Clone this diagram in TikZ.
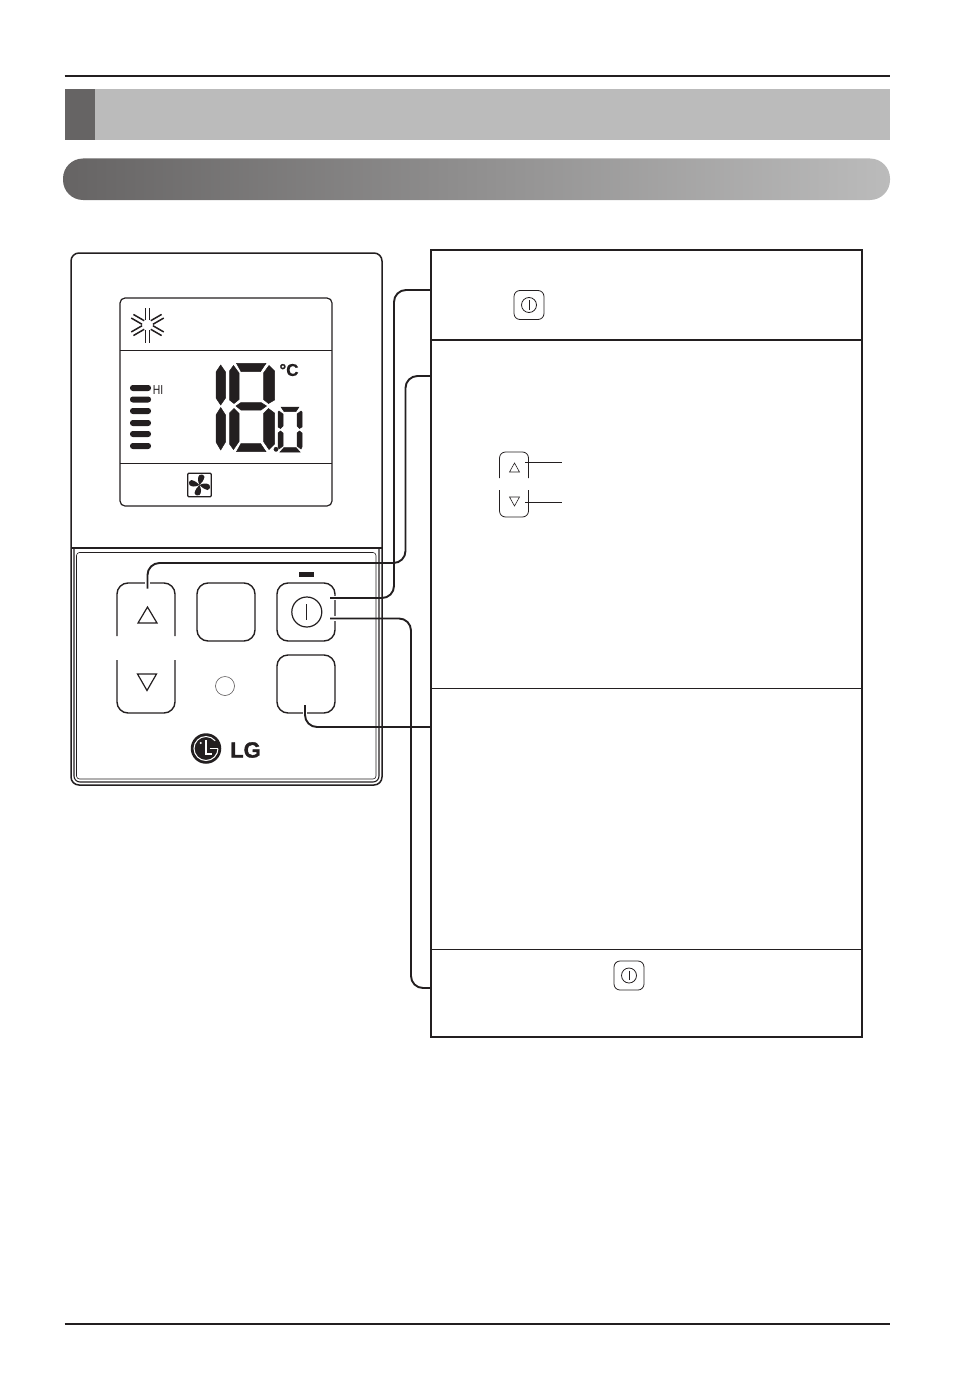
\documentclass[tikz,border=0pt]{standalone}
\usepackage{fontspec}
\setsansfont{Liberation Sans}
\usetikzlibrary{positioning}

\definecolor{bardark}{HTML}{666464}
\definecolor{barlight}{HTML}{BBBBBB}
\definecolor{inkblack}{HTML}{231F20}

\tikzset{
  key/.style={draw=inkblack, line width=1.4pt, rounded corners=11pt, minimum size=58pt, inner sep=0pt, outer sep=0pt},
  halfkey/.style={minimum width=58pt, minimum height=53pt, inner sep=0pt, outer sep=0pt},
  keyline/.style={draw=inkblack, line width=1.4pt, rounded corners=11pt},
  cell/.style={draw=inkblack, line width=0.7pt, minimum width=431pt, inner sep=0pt, outer sep=0pt},
  heavy/.style={draw=inkblack, line width=2.2pt},
  leader/.style={draw=inkblack, line width=1.9pt, rounded corners=12pt},
  halo/.style={draw=white, line width=4.5pt},
  seg/.style={fill=inkblack, draw=inkblack, line width=0.5pt},
  fanbar/.style={fill=inkblack, rounded corners=2.8pt},
  poweron/.pic={
    \draw[inkblack, line width=0.8pt, rounded corners=6pt] (-15,-14.5) rectangle (15,14.5);
    \draw[inkblack, line width=0.8pt] (0,0) circle (7.5);
    \draw[inkblack, line width=0.7pt] (0,-5) -- (0,4.5);
  }
}

\begin{document}
\begin{tikzpicture}[x=1pt, y=-1pt]
\useasboundingbox (0,0) rectangle (954,1399);

% Page header %
\draw[inkblack, line width=2pt] (64.5,76) -- (889.5,76);
\fill[barlight] (64.5,89) rectangle (890,140);
\fill[bardark] (64.5,89) rectangle (95,140);
\shade[left color=bardark, right color=barlight, rounded corners=20pt] (63,158.5) rectangle (890,200);
\draw[inkblack, line width=2pt] (64.5,1324) -- (889.5,1324);

% Remote body %
\node[draw=inkblack, line width=1.5pt, rounded corners=8pt, minimum width=311pt, minimum height=532pt, inner sep=0pt, outer sep=0pt] (body) at (226.5,519) {};
\draw[inkblack, line width=1.5pt] (body.west |- 0,548) -- (body.east |- 0,548);
\draw[inkblack, line width=1.1pt, rounded corners=6pt] (74,548) -- (74,782) -- (379,782) -- (379,548);
\draw[inkblack, line width=0.6pt, rounded corners=3pt] (76.5,552.5) rectangle (376,779);

% Display %
\node[draw=inkblack, line width=1.2pt, rounded corners=5pt, minimum width=212pt, minimum height=208pt, inner sep=0pt, outer sep=0pt] (lcd) at (226,402) {};
\draw[inkblack, line width=0.7pt] (lcd.west |- 0,350) -- (lcd.east |- 0,350);
\draw[inkblack, line width=0.7pt] (lcd.west |- 0,463) -- (lcd.east |- 0,463);

% Snow mark %
\foreach \ang in {30,90,150,210,270,330} {
  \draw[inkblack, line width=1.5pt, rotate around={\ang:(147.5,325)}] (147.5+5,322.9) -- (147.5+17.5,322.9);
  \draw[inkblack, line width=1.5pt, rotate around={\ang:(147.5,325)}] (147.5+5,327.1) -- (147.5+17.5,327.1);
}

% Fan bars %
\foreach \ypos in {388,399.5,411,423,434,446} {
  \fill[fanbar] (130,\ypos-3) rectangle (151,\ypos+3);
}
\node[font=\sffamily\fontsize{13}{13}\selectfont, inner sep=0pt, text=inkblack, xscale=0.8] (hilabel) at (158,390) {HI};

% Digits %
\fill[seg] (220.7,365) -- (225.5,372) -- (225.5,398) -- (220.7,405) -- (216,398) -- (216,372) -- cycle;
\fill[seg] (220.7,407.5) -- (225.5,415) -- (225.5,442) -- (220.7,450) -- (216,442) -- (216,415) -- cycle;
\fill[seg] (233.5,365.5) -- (239,373) -- (239,399.5) -- (234,403.5) -- (229.5,400) -- (229.5,371) -- cycle;
\fill[seg] (234,408.5) -- (239,413.5) -- (239,441.5) -- (233.5,449.5) -- (229.5,444) -- (229.5,413) -- cycle;
\fill[seg] (269,365.5) -- (263.5,373) -- (263.5,399.5) -- (268.5,403.5) -- (274.5,400) -- (274.5,371) -- cycle;
\fill[seg] (268.5,408.5) -- (263.5,413.5) -- (263.5,441.5) -- (269,449.5) -- (274.5,444) -- (274.5,413) -- cycle;
\fill[seg] (236.5,363.3) -- (266,363.3) -- (260.5,371.5) -- (241,371.5) -- cycle;
\fill[seg] (241,402.5) -- (261,402.5) -- (266.5,406) -- (261,410) -- (241,410) -- (236,406) -- cycle;
\fill[seg] (241,443.5) -- (260.5,443.5) -- (266,451.7) -- (236.5,451.7) -- cycle;
\fill[seg] (276,449.3) circle (2.1);
% Small zero
\fill[seg] (279,411) -- (283,414) -- (283,426) -- (280.5,428.5) -- (278,427) -- (278,412) -- cycle;
\fill[seg] (280.5,431) -- (283,433) -- (283,446) -- (279,449) -- (278,447) -- (278,433) -- cycle;
\fill[seg] (301,411) -- (297,414) -- (297,426) -- (299.5,428.5) -- (302,427) -- (302,412) -- cycle;
\fill[seg] (299.5,431) -- (297,433) -- (297,446) -- (301,449) -- (302,447) -- (302,433) -- cycle;
\fill[seg] (281,407) -- (299,407) -- (296,411.5) -- (284,411.5) -- cycle;
\fill[seg] (284,447.5) -- (296,447.5) -- (300,452) -- (280,452) -- cycle;
\node[font=\sffamily\bfseries\fontsize{17}{17}\selectfont\addfontfeature{FakeBold=1}, inner sep=0pt, text=inkblack] (deglabel) at (289,370) {°C};

% Fan mark %
\node[draw=inkblack, line width=1.2pt, rounded corners=1pt, minimum size=23.5pt, inner sep=0pt, outer sep=0pt] (fanbox) at (199.5,485) {};
\foreach \ang in {0,90,180,270} {
  \fill[inkblack, rotate around={\ang:(199.5,485)}] (199.5,485) .. controls (197.5,481) and (197.5,477) .. (199.5,475) .. controls (202.5,474) and (204.5,475) .. (204.5,477) .. controls (203.5,481) and (201.5,483) .. (199.5,485);
}

% Keys %
\node[key] (blankkey) at (226,612) {};
\node[key, right=22pt of blankkey] (powerkey) {};
\node[key, below=14pt of powerkey] (timerkey) {};
\node[halfkey] (upkey) at (146,609.5) {};
\node[halfkey, below=24pt of upkey] (downkey) {};
\draw[keyline] (upkey.south west) -- (upkey.north west) -- (upkey.north east) -- (upkey.south east);
\draw[keyline] (downkey.north west) -- (downkey.south west) -- (downkey.south east) -- (downkey.north east);
\draw[inkblack, line width=1.2pt, line join=miter] (138,623) -- (157,623) -- (147.5,607) -- cycle;
\draw[inkblack, line width=1.2pt, line join=miter] (137.5,674) -- (156.5,674) -- (147,690.5) -- cycle;
\node[draw=inkblack, line width=1.2pt, circle, minimum size=30pt, inner sep=0pt, outer sep=0pt] (powerring) at (306.8,612) {};
\draw[inkblack, line width=1.2pt] (306.8,604) -- (306.8,619.5);
\fill[inkblack] (299,572) rectangle (314,576.5);
\node[draw=inkblack!75, line width=0.6pt, circle, minimum size=19pt, inner sep=0pt, outer sep=0pt] (lamp) at (225,686) {};

% Maker mark %
\node[fill=inkblack, circle, minimum size=30.5pt, inner sep=0pt, outer sep=0pt] (logo) at (206,748.5) {};
\draw[white, line width=1pt] (218,748.5) arc[start angle=0, end angle=320, radius=12];
\draw[white, line width=1.3pt] (206,740) -- (206,754) -- (212,754);
\draw[white, line width=1.3pt] (209.5,748.5) -- (218,748.5);
\fill[white] (200.7,743) circle (1.1);
\node[font=\sffamily\bfseries\fontsize{22}{22}\selectfont\addfontfeature{FakeBold=1.5}, inner sep=0pt, text=inkblack] (logotext) at (245.5,750) {LG};

% Cells of the right column %
\node[cell, minimum height=90pt] (cellpower) at (646.5,295) {};
\node[cell, minimum height=348pt, below=0pt of cellpower] (celltemp) {};
\node[cell, minimum height=261pt, below=0pt of celltemp] (celltimer) {};
\node[cell, minimum height=88pt, below=0pt of celltimer] (celloff) {};
\draw[heavy] (cellpower.north west) rectangle (celloff.south east);
\draw[heavy] (cellpower.south west) -- (cellpower.south east);

% Small marks in the cells %
\pic at (529,305) {poweron};
\pic at (629,975.5) {poweron};
\node[minimum width=29pt, minimum height=26pt, inner sep=0pt, outer sep=0pt] (smallup) at (514,465) {};
\node[minimum width=29pt, minimum height=27pt, inner sep=0pt, outer sep=0pt] (smalldown) at (514,503.5) {};
\draw[inkblack, line width=0.8pt, rounded corners=6pt] (smallup.south west) -- (smallup.north west) -- (smallup.north east) -- (smallup.south east);
\draw[inkblack, line width=0.8pt, rounded corners=6pt] (smalldown.north west) -- (smalldown.south west) -- (smalldown.south east) -- (smalldown.north east);
\draw[inkblack, line width=0.6pt] (509.5,472) -- (519.5,472) -- (514.5,463) -- cycle;
\draw[inkblack, line width=0.6pt] (509.5,497) -- (519.5,497) -- (514.5,506) -- cycle;
\coordinate (upfree) at (562,462);
\coordinate (downfree) at (562,502);
\draw[inkblack, line width=0.8pt] (smallup.east |- upfree) ++(-3.5,0) -- (upfree);
\draw[inkblack, line width=0.8pt] (smalldown.east |- downfree) ++(-3.5,0) -- (downfree);

% Connectors %
\coordinate (upstart) at (147.5,588.5);
\coordinate (powerstarta) at (330,598);
\coordinate (powerstartb) at (330,618.5);
\coordinate (timerstart) at (305,705);
\coordinate (tempend) at (cellpower.west |- 0,376);
\coordinate (powerend) at (cellpower.west |- 0,290);
\coordinate (timerend) at (cellpower.west |- 0,727);
\coordinate (offend) at (cellpower.west |- 0,988);

\draw[halo] (upstart) -- ++(0,-7);
\draw[halo] (powerstarta) -- ++(8,0);
\draw[halo] (powerstartb) -- ++(8,0);
\draw[halo] (timerstart) -- ++(0,10);

\draw[leader] (upstart) -- (147.5,563) -- (405.5,563) -- (405.5,376) -- (tempend);
\draw[leader] (powerstarta) -- (394,598) -- (394,290) -- (powerend);
\draw[leader] (powerstartb) -- (411,618.5) -- (411,988) -- (offend);
\draw[leader] (timerstart) -- (305,727) -- (timerend);

\end{tikzpicture}
\end{document}
